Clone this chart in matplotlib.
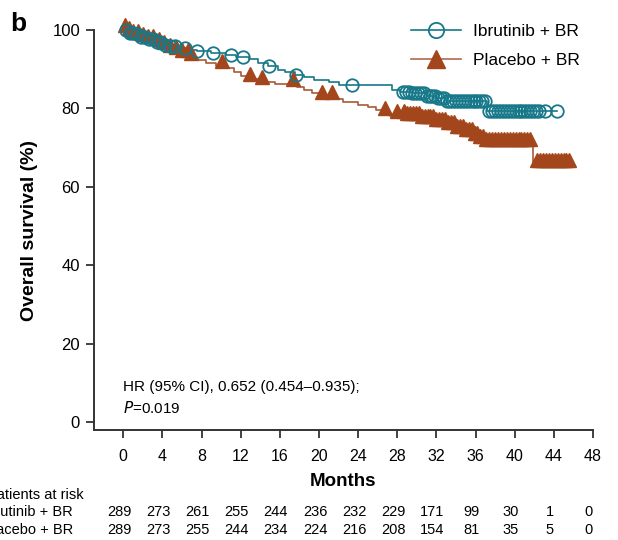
import matplotlib.pyplot as plt
import matplotlib.transforms as mtransforms
import numpy as np

plt.rcParams["font.family"] = ["Liberation Sans", "DejaVu Sans"]

# step data: (month of event, survival % after it)
ibr_t = [0, 0.5, 1.2, 1.8, 2.5, 3.2, 4.0, 4.8, 5.6, 6.5, 7.5, 9.0, 10.5, 11.5,
         12.8, 13.8, 14.8, 15.8, 16.5, 17.5, 18.5, 19.5, 21.0, 22.0, 27.5,
         28.3, 29.5, 31.0, 32.0, 33.0, 37.2]
ibr_s = [100, 99.3, 98.9, 98.3, 97.7, 97.0, 96.3, 95.9, 95.4, 95.0, 94.6,
         94.2, 93.6, 93.1, 92.5, 91.7, 90.8, 89.9, 89.2, 88.5, 87.9, 87.3,
         86.8, 86.1, 84.8, 84.3, 83.9, 83.3, 82.6, 82.0, 79.3]
ibr_end = 44.3
ibr_cens = [0.3, 0.7, 1.0, 1.4, 1.8, 2.2, 2.6, 3.0, 3.4, 3.8, 4.3, 4.8, 5.3,
            6.3, 7.5, 9.2, 11.0, 12.2, 14.9, 17.7, 23.4,
            28.6, 28.9, 29.2, 29.5, 29.8, 30.1, 30.4, 30.7, 31.0, 31.3, 31.6,
            31.9, 32.2, 32.5, 32.8, 33.1, 33.4, 33.7, 34.0, 34.3, 34.6, 34.9,
            35.2, 35.5, 35.8, 36.1, 36.4, 36.7, 37.0, 37.4, 37.7, 38.0, 38.3,
            38.6, 38.9, 39.2, 39.5, 39.8, 40.1, 40.4, 40.7, 41.0, 41.3, 41.6,
            41.9, 42.2, 42.5, 43.1, 44.3]

pbo_t = [0, 0.5, 1.0, 1.7, 2.4, 3.1, 3.8, 4.5, 5.3, 6.0, 6.8, 7.5, 8.5, 9.5,
         10.5, 11.3, 12.0, 12.8, 14.0, 15.5, 17.8, 18.5, 19.3, 20.2, 21.5,
         22.5, 24.0, 25.0, 25.8, 26.5, 27.3, 28.8, 30.5, 32.0, 33.0, 34.0,
         35.0, 35.8, 36.5, 37.0, 41.9]
pbo_s = [100, 99.3, 98.6, 97.9, 97.2, 96.5, 95.8, 95.1, 94.4, 93.7, 93.0,
         92.3, 91.6, 90.9, 90.2, 89.2, 88.4, 87.5, 86.8, 86.3, 85.5, 84.7,
         83.9, 83.1, 82.4, 81.7, 81.0, 80.3, 79.5, 78.8, 78.2, 77.6, 77.0,
         76.2, 75.3, 74.4, 73.5, 72.6, 71.7, 70.9, 65.6]
pbo_end = 45.8
pbo_cens = [0.2, 0.6, 1.0, 1.5, 2.0, 2.5, 3.0, 3.6, 4.2, 4.8, 5.4, 6.0, 6.6,
            6.9, 10.1, 13.0, 14.2, 17.3, 20.3, 21.3, 26.8, 28.0,
            28.7, 29.0, 29.3, 29.6, 29.9, 30.2, 30.5, 30.8, 31.1, 31.4, 31.7,
            32.0, 32.3, 32.6, 32.9, 33.2, 33.5, 33.8, 34.1, 34.4, 34.7, 35.0,
            35.3, 35.6, 35.9, 36.2, 36.5, 36.8, 37.1, 37.4, 37.7, 38.0, 38.3,
            38.6, 38.9, 39.2, 39.5, 39.8, 40.1, 40.4, 40.7, 41.0, 41.3, 41.6,
            42.3, 42.6, 42.9, 43.2, 43.5, 43.8, 44.1, 44.4, 44.7, 45.0, 45.3,
            45.6]

risk_months = [0, 4, 8, 12, 16, 20, 24, 28, 32, 36, 40, 44, 48]
ibr_risk = [289, 273, 261, 255, 244, 236, 232, 229, 171, 99, 30, 1, 0]
pbo_risk = [289, 273, 255, 244, 234, 224, 216, 208, 154, 81, 35, 5, 0]

TEAL = "#17788a"
BROWN = "#a3461b"


def step_at(times, surv, x):
    idx = np.searchsorted(times, x, side="right") - 1
    return np.array(surv)[idx]


fig = plt.figure(figsize=(6.18, 5.4), dpi=100)
ax = fig.add_axes([0.152, 0.2037, 0.8074, 0.7407])

# curves
ax.step(ibr_t + [ibr_end], ibr_s + [ibr_s[-1]], where="post", color=TEAL, lw=1.2)
ax.step(pbo_t + [pbo_end], pbo_s + [pbo_s[-1]], where="post", color="#a85a38", lw=1.2)

ax.plot(pbo_cens, step_at(pbo_t, pbo_s, pbo_cens) + 1.2, ls="none", marker="^",
        ms=10, color=BROWN, mec=BROWN, clip_on=False)
ax.plot(ibr_cens, step_at(ibr_t, ibr_s, ibr_cens), ls="none", marker="o",
        ms=9, mfc="none", mec=TEAL, mew=1.3, clip_on=False)

ax.set_xlim(-3, 48)
ax.set_ylim(-2, 100)
ax.set_xticks(risk_months)
ax.set_yticks([0, 20, 40, 60, 80, 100])
for s in ["top", "right"]:
    ax.spines[s].set_visible(False)
for s in ["left", "bottom"]:
    ax.spines[s].set_linewidth(1.4)
    ax.spines[s].set_color("#333333")
ax.tick_params(direction="out", length=6, width=1.3, color="#333333",
               labelsize=12, pad=4)
ax.tick_params(axis="x", labelsize=11.5, pad=8)
ax.set_xlabel("Months", fontsize=13.5, fontweight="bold", labelpad=6)
ax.set_ylabel("Overall survival (%)", fontsize=14, fontweight="bold", labelpad=10)

# legend
h1, = ax.plot([], [], color=TEAL, lw=1.2, marker="o", ms=11, mfc="none",
              mec=TEAL, mew=1.3)
h2, = ax.plot([], [], color="#b0694b", lw=1.2, marker="^", ms=13,
              mfc=BROWN, mec=BROWN)
ax.legend([h1, h2], ["Ibrutinib + BR", "Placebo + BR"], loc="upper right",
          bbox_to_anchor=(1.006, 1.055), frameon=False, fontsize=12.5,
          handlelength=2.9, labelspacing=0.8, handletextpad=0.7)

ax.text(0, 8.0, "HR (95% CI), 0.652 (0.454\u20130.935);", fontsize=11)
ax.text(0, 2.3, "$\\it{P}$=0.019", fontsize=11)

fig.text(0.016, 0.942, "b", fontsize=19, fontweight="bold")

# numbers at risk
fig.text(0.135, 0.083, "Patients at risk", ha="right", va="center", fontsize=10.5)
fig.text(0.118, 0.051, "Ibrutinib + BR", ha="right", va="center", fontsize=10.5)
fig.text(0.118, 0.018, "Placebo + BR", ha="right", va="center", fontsize=10.5)
btr = mtransforms.blended_transform_factory(ax.transData, fig.transFigure)
for m, a, b in zip(risk_months, ibr_risk, pbo_risk):
    ax.text(m - 0.4, 0.051, str(a), transform=btr, ha="center", va="center", fontsize=10.5)
    ax.text(m - 0.4, 0.018, str(b), transform=btr, ha="center", va="center", fontsize=10.5)

fig.savefig("out.png", dpi=100)
